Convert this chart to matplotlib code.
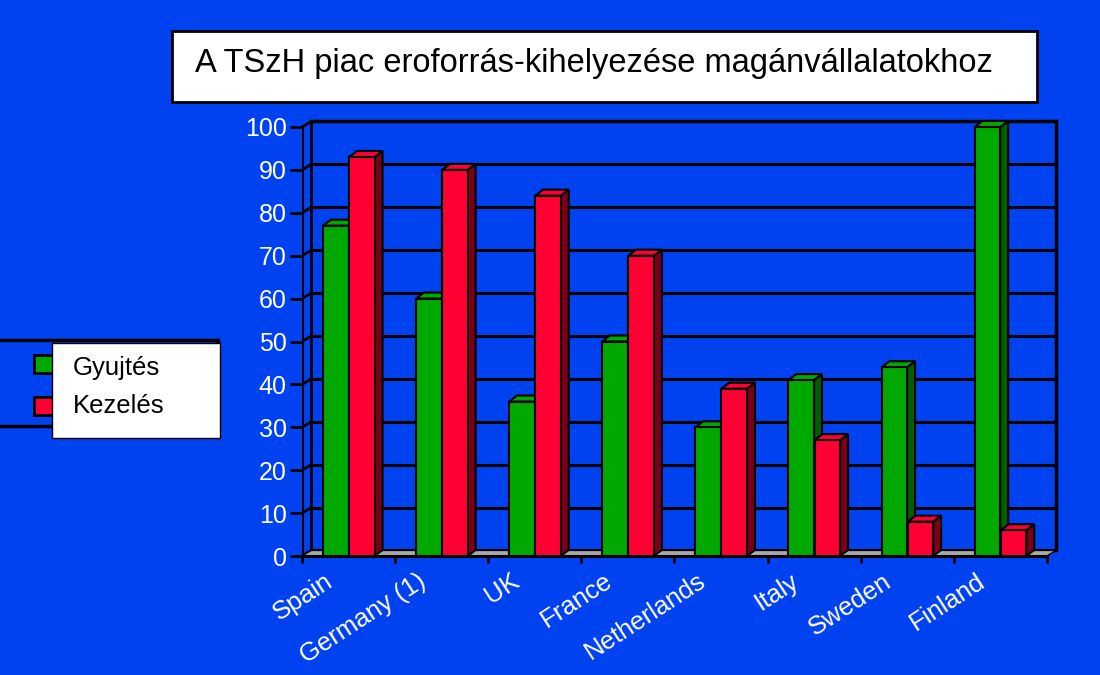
import matplotlib
matplotlib.use("Agg")
import matplotlib.pyplot as plt
from matplotlib.patches import Rectangle, Polygon

# data
categories = ['Spain', 'Germany (1)', 'UK', 'France', 'Netherlands', 'Italy', 'Sweden', 'Finland']
gyujtes = [77, 60, 36, 50, 30, 41, 44, 100]
kezeles = [93, 90, 84, 70, 39, 27, 8, 6]
yticks = list(range(0, 101, 10))

title = 'A TSzH piac eroforrás-kihelyezése magánvállalatokhoz'
series_names = ['Gyujtés', 'Kezelés']

BLUE = '#0042f0'
GREEN, GREEN_D = '#00a800', '#005f00'
RED, RED_D = '#ff0033', '#7a0018'

plt.rcParams['font.family'] = ['Liberation Sans', 'DejaVu Sans']

fig = plt.figure(figsize=(11, 6.75), dpi=100, facecolor=BLUE)

# 3d box offsets (in data units)
DX, DY = 0.1, 1.3
BDX, BDY = 0.085, 1.4
n = len(categories)

ax = fig.add_axes([302/1100, 119/675, (n + DX) * 93.1/1100, (100 + DY) * 4.29/675])
ax.set_xlim(0, n + DX)
ax.set_ylim(0, 100 + DY)
ax.set_facecolor(BLUE)
for s in ax.spines.values():
    s.set_visible(False)

# back wall grid + box
for v in yticks:
    ax.plot([DX, n + DX], [v + DY, v + DY], color='black', lw=2.2, zorder=1)
    ax.plot([0, DX], [v, v + DY], color='black', lw=2, zorder=1)
ax.plot([0, 0], [0, 100], color='black', lw=2.2, zorder=1)
ax.plot([DX, DX], [DY, 100 + DY], color='black', lw=2, zorder=1)
ax.plot([n + DX, n + DX], [DY, 100 + DY], color='black', lw=2.5, zorder=1, clip_on=False)
ax.plot([DX, n + DX], [100 + DY, 100 + DY], color='black', lw=2.5, zorder=1, clip_on=False)

# floor
ax.add_patch(Polygon([(0, 0), (n, 0), (n + DX, DY), (DX, DY)], closed=True,
                     facecolor='#a8a8a8', edgecolor='black', lw=1, zorder=2))
ax.plot([0, n], [0, 0], color='black', lw=2.2, zorder=2, clip_on=False)


def bar3d(x0, w, h, front, dark):
    side = [(x0 + w, 0), (x0 + w + BDX, BDY), (x0 + w + BDX, h + BDY), (x0 + w, h)]
    top = [(x0, h), (x0 + BDX, h + BDY), (x0 + w + BDX, h + BDY), (x0 + w, h)]
    ax.add_patch(Polygon(side, closed=True, facecolor=dark, edgecolor='black', lw=1.5, zorder=3, clip_on=False))
    ax.add_patch(Polygon(top, closed=True, facecolor=front, edgecolor='black', lw=1.5, zorder=3, clip_on=False))
    ax.add_patch(Rectangle((x0, 0), w, h, facecolor=front, edgecolor='black', lw=1.5, zorder=3, clip_on=False))


bw = 0.275
for i in range(n):
    bar3d(i + 0.225, bw, gyujtes[i], GREEN, GREEN_D)
    bar3d(i + 0.505, bw, kezeles[i], RED, RED_D)

# axes ticks
ax.set_yticks(yticks)
ax.set_yticklabels([str(v) for v in yticks], color='white', fontsize=18)
ax.set_xticks(range(n + 1))
ax.set_xticklabels([])
ax.tick_params(axis='y', length=9, width=2, color='black', pad=2)
ax.tick_params(axis='x', length=5, width=2, color='black')

for i, c in enumerate(categories):
    ax.text(i + 0.38, -3.0, c, color='white', fontsize=18.5, rotation=33,
            ha='right', va='top')

# overlay in pixel coords for title box and legend
ov = fig.add_axes([0, 0, 1, 1], zorder=5)
ov.set_xlim(0, 1100)
ov.set_ylim(675, 0)
ov.axis('off')
ov.patch.set_alpha(0)

ov.add_patch(Rectangle((172, 31), 865, 71, facecolor='white', edgecolor='black', lw=2))
ov.text(195, 72, title, fontsize=23.5, color='black', ha='left', va='baseline')

ov.add_patch(Rectangle((-10, 340), 228, 86, facecolor='none', edgecolor='black', lw=2.5))
ov.add_patch(Rectangle((34, 355), 22, 18, facecolor=GREEN, edgecolor='black', lw=2))
ov.add_patch(Rectangle((34, 397), 22, 18, facecolor=RED, edgecolor='black', lw=2))
ov.add_patch(Rectangle((52, 343), 168, 95, facecolor='white', edgecolor='black', lw=1))
ov.text(73, 375, series_names[0], fontsize=18.5, color='black', va='baseline')
ov.text(73, 413, series_names[1], fontsize=18.5, color='black', va='baseline')

fig.savefig('out.png', dpi=100, facecolor=BLUE)
